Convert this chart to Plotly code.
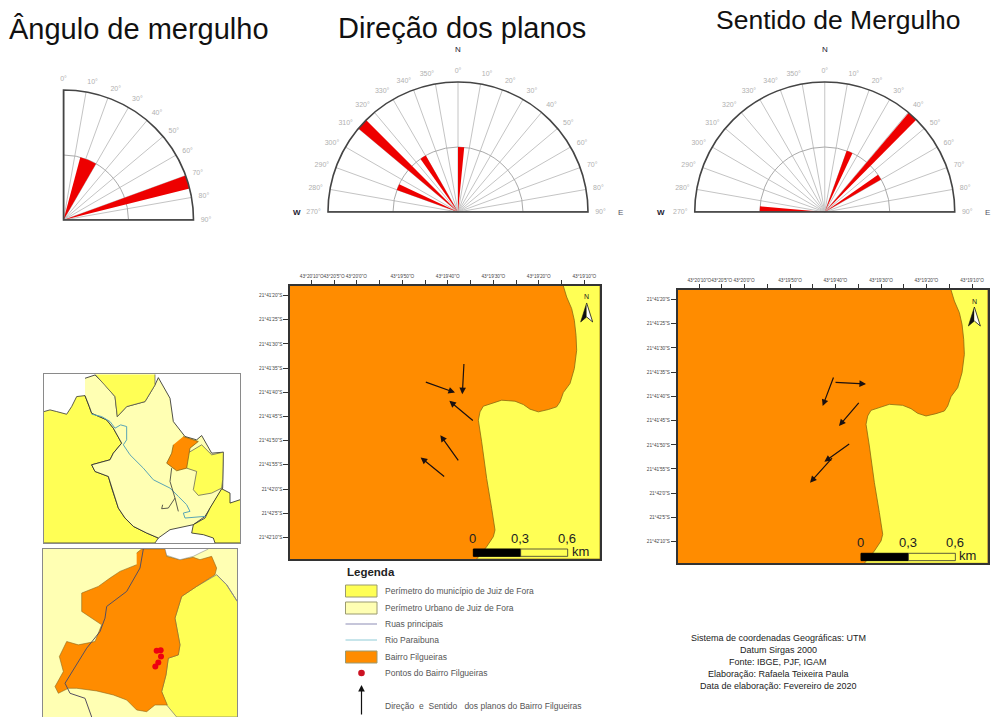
import plotly.graph_objects as go

W, H = 993, 717
def px(x): return x / W
def py(y): return 1 - y / H

ORANGE = "#ff8c00"
YELLOW = "#ffff55"
LIGHT = "#ffffb3"
RED = "#ee0000"

# ---- rose diagrams: class centre angle, class width, count
dip_theta = [22.5, 73.0]
dip_width = [15, 6]
dip_r = [1, 2]
dip_ticks = list(range(0, 100, 10))

strike_theta = [2.75, 292.5, 312.5, 327.5]
strike_width = [5.5, 5.5, 5, 5.5]
strike_r = [1, 1, 2, 1]

dipdir_theta = [22.5, 42.5, 57.5, 272.5]
dipdir_width = [5.5, 4.5, 5, 5]
dipdir_r = [1, 2, 1, 1]
half_ticks = list(range(270, 360, 10)) + list(range(0, 100, 10))

# ---- large map panels (panel units)
boundary_x = [925,935,950,958,963,965,958,945,925,915,905,880,850,825,805,780,740,705,685,675,670,680,695,710,720,715,695,665,1035,1035]
boundary_y = [62,95,130,165,210,255,310,355,382,410,425,433,440,432,418,408,405,415,423,440,465,530,640,730,795,815,845,882,882,62]
frame_x = [105,1035,1035,105]
frame_y = [62,62,882,882]

lon_labels = ["43°20'10\"O","43°20'5\"O","43°20'0\"O","","43°19'50\"O","","43°19'40\"O","","43°19'30\"O","","43°19'20\"O","","43°19'10\"O"]
lon_ticks = [170,237,304,373,442,510,578,646,715,783,851,919,988]
lat_labels = ["21°41'20\"S","21°41'25\"S","21°41'30\"S","21°41'35\"S","21°41'40\"S","21°41'45\"S","21°41'50\"S","21°41'55\"S","21°42'0\"S","21°42'5\"S","21°42'10\"S"]
lat_ticks = [90,163,236,309,382,454,527,599,673,745,817]

arrows_a = [(508,349,600,382),(627,292,622,387),(658,470,583,407),(613,590,556,510),(572,638,497,577)]
arrows_b = [(574,320,540,410),(574,339,670,344),(652,396,589,470),(624,521,545,577),(572,562,502,640)]

# ---- inset maps
urban_x = [165,195,225,255,262,290,345,375,385,420,430,465,500,515,545,580,578,560,525,490,450,420,385,350,310,285,265,245,235,195,185,240,250,275,250,230,185,178,165]
urban_y = [40,30,60,95,155,125,110,60,38,100,170,215,225,212,265,262,370,400,455,480,488,495,520,505,485,460,430,370,335,320,300,285,265,235,190,165,145,125,92]
west_x = [42,60,80,110,125,140,165,178,185,230,250,275,250,240,185,195,235,245,265,285,310,350,385,375,42]
west_y = [140,135,140,148,125,95,92,125,145,165,190,235,265,285,300,320,335,370,430,460,485,505,520,535,535]
north_x = [195,225,255,262,290,345,375,375]
north_y = [28,60,95,155,125,110,60,28]
lobe_x = [478,515,545,580,578,575,545,505,490,500,470]
lobe_y = [262,240,270,262,345,370,385,392,375,320,310]
se_x = [630,600,600,575,540,525,490,485,520,550,555,630]
se_y = [405,415,385,372,430,460,480,505,510,520,535,535]
hood_x = [460,505,480,470,440,418,410,425,430]
hood_y = [215,230,250,310,318,302,295,265,240]
river_x = [185,215,240,255,272,290,290,280,300,340,370,420,445,470,480,460,465,505,525]
river_y = [148,155,170,190,180,185,225,240,270,310,345,370,395,420,440,445,460,458,455]
road_x = [425,420,435,445,None,435,415,395,398]
road_y = [310,350,400,440,None,400,430,432,420]

inset_x = [38,622,622,38]
inset_y = [553,553,1056,1056]
east_x = [622,590,560,500,455,435,450,445,415,408,395,410,440,622]
east_y = [710,660,630,665,695,760,840,870,880,930,980,1020,1056,1056]
bairro_x = [320,335,408,410,450,490,510,545,560,555,500,455,435,450,445,415,408,395,412,375,350,320,290,250,200,140,115,85,75,100,88,110,145,195,215,155,155,205,240,270,320]
bairro_y = [565,553,553,575,585,578,585,575,610,630,665,695,760,840,870,880,930,980,1020,1020,1040,1035,1005,990,978,970,970,985,965,920,875,830,840,830,780,740,685,665,640,620,600]
gap_x = [405,410,450,490,510,535]
gap_y = [553,572,585,575,565,553]
main_road_x = [340,330,290,230,225,210,170,130,105,120,165,185]
main_road_y = [553,610,680,725,760,800,850,915,955,985,1000,1056]
edge_x = [560,590,622]
edge_y = [630,660,710]
pts_x = [380,392,393,385,376]
pts_y = [858,856,875,893,905]

fig = go.Figure()

def rose(sub, theta, width, r, edge_t, edge_r):
    fig.add_trace(go.Barpolar(theta=theta, width=width, r=r, subplot=sub,
                              marker=dict(color=RED, line=dict(width=0)),
                              showlegend=False, hoverinfo="skip"))
    fig.add_trace(go.Scatterpolar(theta=edge_t, r=edge_r, subplot=sub, mode="lines",
                                  line=dict(color="#444", width=1.6),
                                  showlegend=False, hoverinfo="skip"))

rose("polar", dip_theta, dip_width, dip_r, [0,0,90], [2,0,2])
rose("polar2", strike_theta, strike_width, strike_r, [270,0,90], [2,0,2])
rose("polar3", dipdir_theta, dipdir_width, dipdir_r, [270,0,90], [2,0,2])

def polar_layout(x0, x1, y0, y1, sector, ticks):
    return dict(
        domain=dict(x=[px(x0), px(x1)], y=[py(y1), py(y0)]),
        sector=sector, bgcolor="white",
        angularaxis=dict(direction="clockwise", rotation=90, tickmode="array",
                         tickvals=[t - 360 if t >= 270 else t for t in ticks],
                         ticktext=[f"{t}°" for t in ticks], tickfont=dict(size=7, color="#b0b0b0", family="Liberation Sans"),
                         showline=True, linecolor="#444", linewidth=1.6, gridcolor="#c4c4c4", gridwidth=1,
                         ticks="outside", ticklen=5, tickcolor="rgba(0,0,0,0)"),
        radialaxis=dict(range=[0, 2], tickmode="array", tickvals=[1], showticklabels=False, ticks="",
                        showline=False, gridcolor="#aaaaaa", gridwidth=1),
    )

def poly(ax, xs, ys, color, line="#7a6a20", lw=0.7):
    fig.add_trace(go.Scatter(x=xs, y=ys, mode="lines", fill="toself", fillcolor=color,
                             line=dict(color=line, width=lw), xaxis=ax[0], yaxis=ax[1],
                             showlegend=False, hoverinfo="skip"))

def path(ax, xs, ys, color, lw=1):
    fig.add_trace(go.Scatter(x=xs, y=ys, mode="lines", line=dict(color=color, width=lw),
                             xaxis=ax[0], yaxis=ax[1], connectgaps=False,
                             showlegend=False, hoverinfo="skip"))

A1, A2, A3, A4 = ("x", "y"), ("x2", "y2"), ("x3", "y3"), ("x4", "y4")

annotations, shapes = [], []

for ax, arrows in ((A1, arrows_a), (A2, arrows_b)):
    poly(ax, frame_x, frame_y, ORANGE, ORANGE, 0)
    poly(ax, boundary_x, boundary_y, YELLOW, "#8a6a10", 0.8)
    poly(ax, [995,977,995], [113,170,155], "#111", "#111", 0.6)
    poly(ax, [995,1013,995], [113,170,155], "white", "#111", 0.8)
    for x0, y0, x1, y1 in arrows:
        annotations.append(dict(x=x1, y=y1, ax=x0, ay=y0, xref=ax[0], yref=ax[1], axref=ax[0], ayref=ax[1],
                                text="", showarrow=True, arrowhead=2, arrowsize=1.1, arrowwidth=1.2, arrowcolor="#1a1010"))
    shapes.append(dict(type="rect", xref=ax[0], yref=ax[1], x0=655, x1=797, y0=852, y1=874, fillcolor="black", line=dict(color="black", width=1)))
    shapes.append(dict(type="rect", xref=ax[0], yref=ax[1], x0=797, x1=938, y0=852, y1=874, fillcolor=YELLOW, line=dict(color="#333", width=0.8)))
    for label, lx in (("0", 652), ("0,3", 795), ("0,6", 937)):
        annotations.append(dict(x=lx, y=820, xref=ax[0], yref=ax[1], text=label, showarrow=False,
                                font=dict(size=13, color="#222", family="Liberation Sans")))
    annotations.append(dict(x=975, y=860, xref=ax[0], yref=ax[1], text="km", showarrow=False,
                            font=dict(size=13, color="#222", family="Liberation Sans")))
    annotations.append(dict(x=995, y=95, xref=ax[0], yref=ax[1], text="N", showarrow=False,
                            font=dict(size=7, color="#222", family="Liberation Sans")))

poly(A3, west_x, west_y, YELLOW, "#333", 0.8)
poly(A3, urban_x, urban_y, LIGHT, "#222", 0.8)
poly(A3, north_x, north_y, YELLOW, "#555", 0.7)
poly(A3, lobe_x, lobe_y, YELLOW, "#555", 0.7)
poly(A3, se_x, se_y, YELLOW, "#222", 0.8)
poly(A3, hood_x, hood_y, ORANGE, "#7a5a10", 0.7)
path(A3, river_x, river_y, "#5aa5b5", 1)
path(A3, road_x, road_y, "#333", 0.8)

poly(A4, inset_x, inset_y, LIGHT, LIGHT, 0)
poly(A4, east_x, east_y, YELLOW, "#777", 0.7)
poly(A4, bairro_x, bairro_y, ORANGE, "#8a6a20", 0.6)
poly(A4, gap_x, gap_y, "white", "#777", 0.5)
path(A4, main_road_x, main_road_y, "#554f60", 1)
path(A4, edge_x, edge_y, "#888", 1)
fig.add_trace(go.Scatter(x=pts_x, y=pts_y, mode="markers", marker=dict(color="#ee0011", size=6),
                         xaxis="x4", yaxis="y4", showlegend=False, hoverinfo="skip"))

tick_font = dict(size=4.7, color="#444", family="Liberation Sans")
def big_axes(x0, x1, y0, y1, anchor):
    xa = dict(domain=[px(x0), px(x1)], range=[105, 1035], anchor=anchor[1], side="top", showgrid=False, zeroline=False,
              tickmode="array", tickvals=lon_ticks, ticktext=lon_labels, tickfont=tick_font, tickangle=0, ticks="outside", ticklen=4,
              tickcolor="#333", mirror=True, showline=True, linecolor="#333", linewidth=1.5)
    ya = dict(domain=[py(y1), py(y0)], range=[882, 62], anchor=anchor[0], showgrid=False, zeroline=False,
              tickmode="array", tickvals=lat_ticks, ticktext=lat_labels, tickfont=tick_font, tickangle=0, ticks="outside", ticklen=5,
              tickcolor="#333", mirror=True, showline=True, linecolor="#333", linewidth=1.5)
    return xa, ya

def inset_axes(x0, x1, y0, y1, xr, yr, anchor):
    common = dict(showgrid=False, zeroline=False, showticklabels=False, ticks="", mirror=True, showline=True,
                  linecolor="#8a8a8a", linewidth=1)
    return (dict(domain=[px(x0), px(x1)], range=xr, anchor=anchor[1], **common),
            dict(domain=[py(y1), py(y0)], range=yr, anchor=anchor[0], **common))

xa1, ya1 = big_axes(290, 600, 286, 559, ("x", "y"))
xa2, ya2 = big_axes(677.7, 987.7, 290, 563.3, ("x2", "y2"))
xa3, ya3 = inset_axes(44, 240, 374.3, 543, [42, 630], [535, 28], ("x3", "y3"))
xa4, ya4 = inset_axes(42.7, 237.3, 549, 717, [38, 622], [1056, 553], ("x4", "y4"))

def text(x, y, s, size, color="#111", anchor="center", bold=False):
    annotations.append(dict(x=px(x), y=py(y), xref="paper", yref="paper", text=f"<b>{s}</b>" if bold else s,
                            showarrow=False, xanchor=anchor, yanchor="middle",
                            font=dict(size=size, color=color, family="Liberation Sans")))

text(139, 29, "Ângulo de mergulho", 29)
text(462, 28, "Direção dos planos", 29)
text(838, 20, "Sentido de Mergulho", 26.5)
text(458, 50, "N", 8, "#223")
text(825, 50, "N", 8, "#223")
text(297, 213, "W", 8, "#223", bold=True)
text(620, 213, "E", 8, "#556")
text(661, 213, "W", 8, "#223", bold=True)
text(987, 213, "E", 8, "#556")

# legend
text(345, 572, "Legenda", 11.5, "#222", "left", True)
legend_labels = ["Perímetro do município de Juiz de Fora", "Perímetro Urbano de Juiz de Fora", "Ruas principais",
                 "Rio Paraibuna", "Bairro Filgueiras", "Pontos do Bairro Filgueiras", "Direção  e  Sentido   dos planos do Bairro Filgueiras"]
legend_y = [591, 608, 624, 640, 657, 673, 706]
for s, y in zip(legend_labels, legend_y):
    text(382.5, y, s, 8.5, "#555", "left")

def swatch(y, color):
    shapes.append(dict(type="rect", xref="paper", yref="paper", x0=px(345.5), x1=px(377), y0=py(y+6), y1=py(y-6),
                       fillcolor=color, line=dict(color="#9a9a70", width=1)))
swatch(591, YELLOW)
swatch(608, LIGHT)
swatch(657, ORANGE)
for y, c in ((624, "#8d8db5"), (640, "#8fcbd6")):
    shapes.append(dict(type="line", xref="paper", yref="paper", x0=px(345.5), x1=px(377), y0=py(y), y1=py(y), line=dict(color=c, width=1)))
shapes.append(dict(type="circle", xref="paper", yref="paper", x0=px(358.2), x1=px(364.8), y0=py(676.3), y1=py(669.7),
                   fillcolor="#cc1122", line=dict(width=0)))
annotations.append(dict(x=px(361.5), y=py(685), xref="paper", yref="paper", ax=0, ay=31, text="", showarrow=True,
                        arrowhead=2, arrowsize=1.1, arrowwidth=1.2, arrowcolor="#111"))

info = ["Sistema de coordenadas Geográficas: UTM", "Datum Sirgas 2000", "Fonte: IBGE, PJF, IGAM",
        "Elaboração: Rafaela Teixeira Paula", "Data de elaboração: Fevereiro de 2020"]
for s, y in zip(info, [638, 650, 662, 674, 686]):
    text(778, y, s, 9, "#222")

fig.update_layout(
    width=W, height=H, autosize=False, margin=dict(l=0, r=0, t=0, b=0),
    paper_bgcolor="white", plot_bgcolor="white", showlegend=False, barmode="overlay",
    polar=polar_layout(63, 194, 90, 220, [0, 90], dip_ticks),
    polar2=polar_layout(327, 589, 82, 212, [0, 180], half_ticks),
    polar3=polar_layout(693.5, 956, 82, 212, [0, 180], half_ticks),
    xaxis=xa1, yaxis=ya1, xaxis2=xa2, yaxis2=ya2, xaxis3=xa3, yaxis3=ya3, xaxis4=xa4, yaxis4=ya4,
    annotations=annotations, shapes=shapes,
)
fig.write_html("out.html", config={"displayModeBar": False},
               post_script="document.body.style.margin='0';document.documentElement.style.overflow='hidden';")
